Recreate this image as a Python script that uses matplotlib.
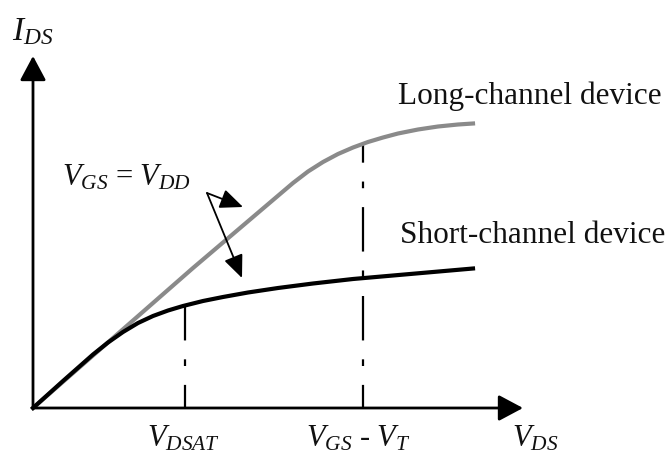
import numpy as np
import matplotlib
matplotlib.use("Agg")
import matplotlib.pyplot as plt

plt.rcParams['font.family'] = 'Liberation Serif'
plt.rcParams['mathtext.fontset'] = 'custom'
plt.rcParams['mathtext.it'] = 'Liberation Serif:italic'
plt.rcParams['mathtext.rm'] = 'Liberation Serif'

# I-V curves (arbitrary units, origin at the axis corner)
vds_long = [0, 40, 80, 120, 160, 200, 240, 260, 275, 290, 305, 320, 335, 350, 365, 385, 405, 425, 440]
ids_long = [0, 35, 70, 105, 140, 174, 208, 225, 236.5, 246, 254, 260.5, 266, 270.5, 274.5, 278.5, 281.5, 283.5, 284.5]

vds_short = [0, 30, 60, 75, 90, 105, 120, 135, 150, 170, 190, 215, 245, 280, 320, 360, 400, 440]
ids_short = [0, 27, 53.5, 65.5, 76, 85, 92, 97.5, 102, 107, 111, 115.5, 120, 124.5, 129, 132.5, 136, 139.5]

vdsat = 152        # velocity saturation point on the short-channel curve
vgs_vt = 330       # pinch-off point on the long-channel curve

fig = plt.figure(figsize=(6.66, 4.65), dpi=100)
ax = fig.add_axes([0, 0, 1, 1])
ax.set_xlim(-33, 633)
ax.set_ylim(-57, 408)
ax.set_axis_off()

# axes with arrow heads
arrow_kw = dict(arrowstyle='-|>,head_length=15,head_width=8', mutation_scale=1,
                lw=2, color='black', shrinkA=0, shrinkB=0)
ax.annotate('', xy=(490, 0), xytext=(0, 0), arrowprops=arrow_kw)
ax.annotate('', xy=(0, 352), xytext=(0, 0), arrowprops=arrow_kw)

# dash-dot markers, drawn up from the V_DS axis so the pattern starts there
y_sat = np.interp(vdsat, vds_short, ids_short)
y_po = np.interp(vgs_vt, vds_long, ids_long)
dd = (9.6, (20, 8.5, 3, 8.5))
ax.plot([vdsat, vdsat], [0, y_sat], color='black', lw=1.6, linestyle=dd, zorder=1)
ax.plot([vgs_vt, vgs_vt], [0, y_po], color='black', lw=1.6, linestyle=dd, zorder=1)

ax.plot(vds_long, ids_long, color='#8a8a8a', lw=3, solid_joinstyle='round', zorder=2)
ax.plot(vds_short, ids_short, color='black', lw=3, solid_joinstyle='round', zorder=3)

# V_GS = V_DD pointers
ptr_kw = dict(arrowstyle='-|>,head_length=14,head_width=6', mutation_scale=1,
              lw=1.3, color='black', shrinkA=0, shrinkB=0)
ax.annotate('', xy=(210, 201), xytext=(174, 215), arrowprops=ptr_kw)
ax.annotate('', xy=(209, 130), xytext=(174, 215), arrowprops=ptr_kw)

fs = 22
tc = '#111111'
ax.text(-21, 368, r'$I_{DS}$', fontsize=24, color=tc)
ax.text(479, -38, r'$V_{DS}$', fontsize=fs, color=tc)
ax.text(114, -38, r'$V_{DSAT}$', fontsize=fs, color=tc)
ax.text(273, -38, r'$V_{GS}$ - $V_T$', fontsize=fs, color=tc)
ax.text(29, 223, r'$V_{GS}$ = $V_{DD}$', fontsize=fs, color=tc)
ax.text(365, 304, 'Long-channel device', fontsize=22.5, color=tc)
ax.text(367, 165, 'Short-channel device', fontsize=22.5, color=tc)

fig.savefig('out.png', dpi=100, facecolor='white')
